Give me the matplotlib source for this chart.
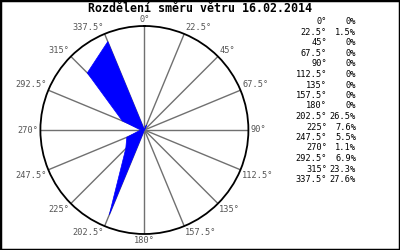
import numpy as np
import matplotlib
matplotlib.use("Agg")
import matplotlib.pyplot as plt
from matplotlib.patches import Rectangle

directions = [0, 22.5, 45, 67.5, 90, 112.5, 135, 157.5, 180,
              202.5, 225, 247.5, 270, 292.5, 315, 337.5]
dir_labels = ["0°", "22.5°", "45°", "67.5°", "90°", "112.5°", "135°", "157.5°", "180°",
              "202.5°", "225°", "247.5°", "270°", "292.5°", "315°", "337.5°"]
percentages = [0, 1.5, 0, 0, 0, 0, 0, 0, 0, 26.5, 7.6, 5.5, 1.1, 6.9, 23.3, 27.6]
pct_labels = ["0%", "1.5%", "0%", "0%", "0%", "0%", "0%", "0%", "0%",
              "26.5%", "7.6%", "5.5%", "1.1%", "6.9%", "23.3%", "27.6%"]
title = "Rozdělení směru větru 16.02.2014"
r_max = 30

mono = "DejaVu Sans Mono"

fig = plt.figure(figsize=(4, 2.5), dpi=100)
ax = fig.add_axes([0.101, 0.064, 0.52, 0.832], projection="polar")
ax.set_theta_zero_location("N")
ax.set_theta_direction(-1)
ax.set_ylim(0, r_max)

theta = np.deg2rad(directions)
ax.set_thetagrids(directions, labels=[""] * len(directions))
ax.set_rgrids([r_max], labels=[""])
ax.grid(False)
ax.xaxis.grid(True, color="#707070", linewidth=1.0)
ax.spines["polar"].set_color("black")
ax.spines["polar"].set_linewidth(1.3)

ax.fill(theta, percentages, facecolor="#0000ff", edgecolor="#0000ff",
        linewidth=0.5, zorder=3)

# angle labels just outside the circle
for t, lab in zip(theta, dir_labels):
    s, c = np.sin(t), np.cos(t)
    ha = "left" if s > 0.01 else ("right" if s < -0.01 else "center")
    va = "bottom" if c > 0.01 else ("top" if c < -0.01 else "center")
    ax.text(t, r_max * 1.02, lab, ha=ha, va=va, fontsize=6.2,
            family=mono, color="#555555")

fig.text(0.5, 1 - 9 / 250, title, ha="center", va="center",
         fontsize=8.4, fontweight="bold", family=mono)

# table of percentages on the right
for i, (lab, p) in enumerate(zip(dir_labels, pct_labels)):
    y = 1 - (22 + i * 10.5) / 250
    fig.text(327 / 400, y, lab, ha="right", va="center", fontsize=6.2, family=mono)
    fig.text(356 / 400, y, p, ha="right", va="center", fontsize=6.2, family=mono)

fig.patches.append(Rectangle((0, 0), 1, 1, transform=fig.transFigure,
                             fill=False, edgecolor="black", linewidth=2.5))

fig.savefig("out.png", dpi=100)
